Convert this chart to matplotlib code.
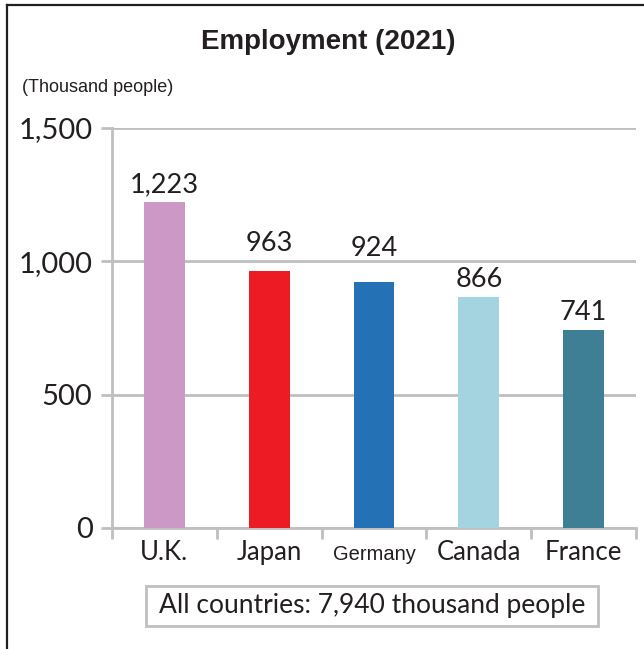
import matplotlib.pyplot as plt
from matplotlib.lines import Line2D
from matplotlib.patches import Rectangle

countries = ["U.K.", "Japan", "Germany", "Canada", "France"]
employment = [1223, 963, 924, 866, 741]
bar_colors = ["#cc99c7", "#ed1c24", "#2472b5", "#a4d4df", "#3f7f96"]
yticks = [0, 500, 1000, 1500]
ytick_labels = ["0", "500", "1,000", "1,500"]
total_note = "All countries: 7,940 thousand people"
# gap (px) between bar top and label, labels near the 1,000 line sit higher
label_gap = [10, 20, 26, 10, 10]

W, H = 644, 649
fig = plt.figure(figsize=(W / 100, H / 100), dpi=100)

# frame around the figure (only top and left show in the crop)
fig.add_artist(Line2D([7 / W, 7 / W], [0, 1 - 5 / H], color="#231f20", lw=1.6, transform=fig.transFigure))
fig.add_artist(Line2D([7 / W, 1], [1 - 5 / H, 1 - 5 / H], color="#231f20", lw=1.6, transform=fig.transFigure))

ax = fig.add_axes([112 / W, 1 - 528 / H, (636 - 112) / W, 400 / H])

x = range(len(countries))
ax.bar(x, employment, width=0.39, color=bar_colors, zorder=3)
for i, v in enumerate(employment):
    ax.annotate(f"{v:,}", (i, v), xytext=(0, label_gap[i] * 0.72), textcoords="offset points",
                ha="center", va="baseline", fontsize=19.5, family="Lato", color="#231f20")

ax.set_xlim(-0.5, len(countries) - 0.5)
ax.set_ylim(0, 1500)
ax.set_yticks(yticks)
ax.set_yticklabels(ytick_labels, family="Lato", fontsize=21, color="#231f20")
ax.yaxis.grid(True, color="#bfbfbf", lw=2, zorder=0)
ax.set_xticks([i - 0.5 for i in range(len(countries) + 1)], minor=False)
ax.set_xticklabels([])
ax.set_xticks(list(x), minor=True)
ax.set_xticklabels(countries, minor=True, family="Lato", fontsize=18.5, color="#231f20")
for lbl in ax.get_xticklabels(minor=True):
    lbl.set_verticalalignment("baseline")
ger = ax.get_xticklabels(minor=True)[2]
ger.set_fontsize(14.5)
ger.set_family("Liberation Sans")
ax.tick_params(axis="x", which="major", length=8, width=2, color="#bfbfbf")
ax.tick_params(axis="x", which="minor", length=0, pad=23)
ax.tick_params(axis="y", length=8, width=2, color="#bfbfbf", pad=6)

for s in ["top", "right"]:
    ax.spines[s].set_visible(False)
for s in ["left", "bottom"]:
    ax.spines[s].set_color("#bfbfbf")
    ax.spines[s].set_linewidth(2)

fig.text(328 / W, 1 - 42 / H, "Employment (2021)", ha="center", va="center",
         fontsize=20, fontweight="bold", family="Liberation Sans", color="#231f20")
fig.text(22 / W, 1 - 87 / H, "(Thousand people)", ha="left", va="center",
         fontsize=13, family="Liberation Sans", color="#231f20")

fig.add_artist(Rectangle((146 / W, 1 - 626 / H), (598 - 146) / W, 40 / H,
                         transform=fig.transFigure, fill=False, edgecolor="#bfbfbf", lw=2))
fig.text(372 / W, 1 - 606 / H, total_note, ha="center", va="center",
         fontsize=19, family="Lato", color="#231f20")

fig.savefig("out.png", dpi=100)
